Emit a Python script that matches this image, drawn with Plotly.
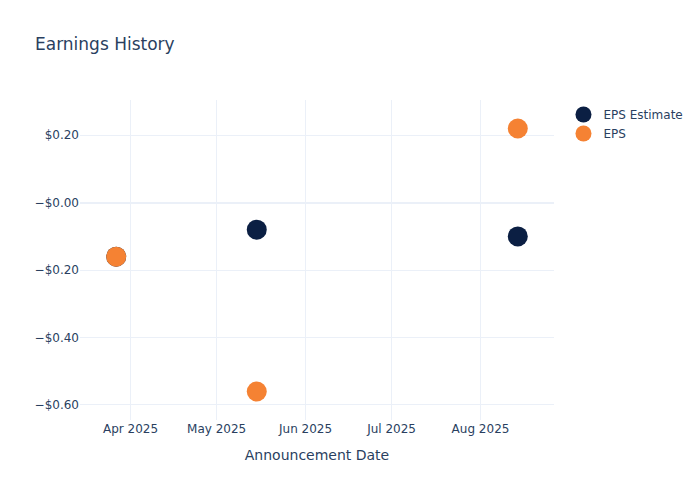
import plotly.graph_objects as go

dates = ["2025-03-27", "2025-05-15", "2025-08-14"]
eps_estimate = [-0.16, -0.08, -0.10]
eps_actual = [-0.16, -0.56, 0.22]
y_tick_vals = [-0.6, -0.4, -0.2, 0.0, 0.2]
y_tick_text = ["\u2212$0.60", "\u2212$0.40", "\u2212$0.20", "\u2212$0.00", "$0.20"]

fig = go.Figure()
fig.add_trace(go.Scatter(x=dates, y=eps_estimate, mode="markers", name="EPS Estimate",
                         marker=dict(size=20, color="#0b1f43")))
fig.add_trace(go.Scatter(x=dates, y=eps_actual, mode="markers", name="EPS",
                         marker=dict(size=20, color="#f58233")))
fig.update_layout(
    template="plotly_white",
    title="Earnings History",
    xaxis_title="Announcement Date",
    font=dict(family="DejaVu Sans, Verdana, sans-serif"),
    width=700,
    height=500,
)
fig.update_yaxes(tickvals=y_tick_vals, ticktext=y_tick_text)
fig.write_html("out.html", config={"displayModeBar": False},
               post_script="document.body.style.margin='0px';")
